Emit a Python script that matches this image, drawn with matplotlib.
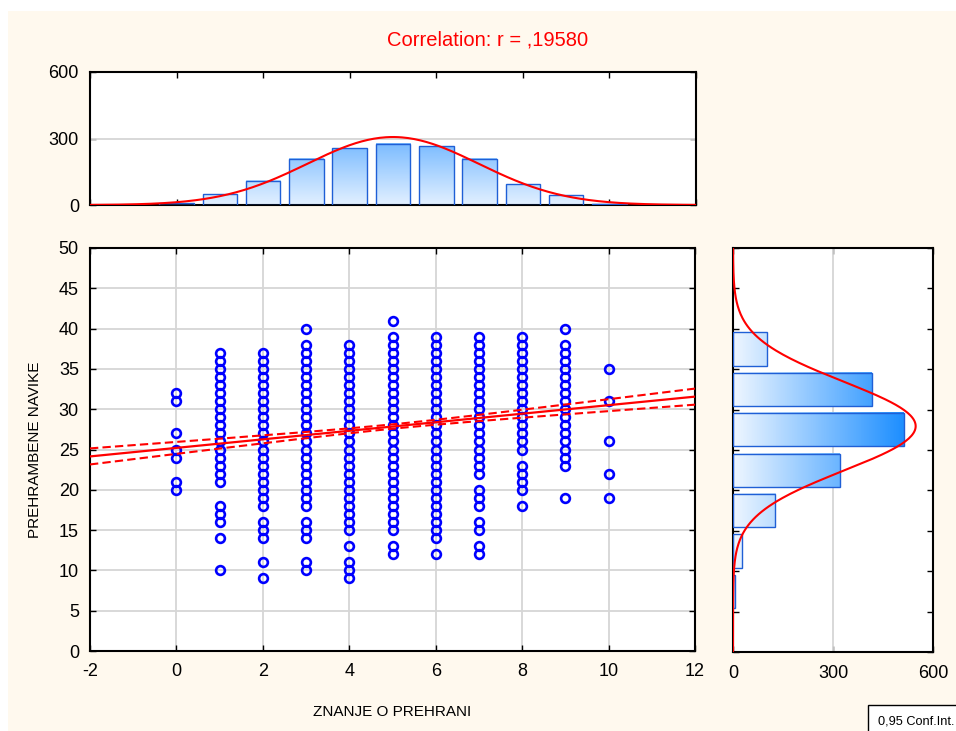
import numpy as np
import matplotlib
matplotlib.use('Agg')
import matplotlib.pyplot as plt
from matplotlib.patches import Rectangle
from matplotlib.colors import LinearSegmentedColormap

plt.rcParams['font.family'] = ['Liberation Sans', 'DejaVu Sans']
plt.rcParams['axes.unicode_minus'] = False

# scatter columns: ZNANJE O PREHRANI score -> PREHRAMBENE NAVIKE values seen
col_x = [0, 1, 2, 3, 4, 5, 6, 7, 8, 9, 10]
col_y = [
    [20, 21, 24, 25, 27, 31, 32],
    [10, 14, 16, 17, 18, 21, 22, 23, 24, 25, 26, 27, 28, 29, 30, 31, 32, 33, 34, 35, 36, 37],
    [9, 11, 14, 15, 16, 18, 19, 20, 21, 22, 23, 24, 25, 26, 27, 28, 29, 30, 31, 32, 33, 34, 35, 36, 37],
    [10, 11, 14, 15, 16, 18, 19, 20, 21, 22, 23, 24, 25, 26, 27, 28, 29, 30, 31, 32, 33, 34, 35, 36, 37, 38, 40],
    [9, 10, 11, 13, 15, 16, 17, 18, 19, 20, 21, 22, 23, 24, 25, 26, 27, 28, 29, 30, 31, 32, 33, 34, 35, 36, 37, 38],
    [12, 13, 15, 16, 17, 18, 19, 20, 21, 22, 23, 24, 25, 26, 27, 28, 29, 30, 31, 32, 33, 34, 35, 36, 37, 38, 39, 41],
    [12, 14, 15, 16, 17, 18, 19, 20, 21, 22, 23, 24, 25, 26, 27, 28, 29, 30, 31, 32, 33, 34, 35, 36, 37, 38, 39],
    [12, 13, 15, 16, 18, 19, 20, 22, 23, 24, 25, 26, 27, 28, 29, 30, 31, 32, 33, 34, 35, 36, 37, 38, 39],
    [18, 20, 21, 22, 23, 25, 26, 27, 28, 29, 30, 31, 32, 33, 34, 35, 36, 37, 38, 39],
    [19, 23, 24, 25, 26, 27, 28, 29, 30, 31, 32, 33, 34, 35, 36, 37, 38, 40],
    [19, 22, 26, 31, 35],
]

# marginal histogram of x (top)
hist_x = [0, 1, 2, 3, 4, 5, 6, 7, 8, 9, 10]
hist_x_counts = [8, 48, 109, 208, 256, 277, 265, 208, 94, 44, 5]
x_mean, x_sd = 5.0, 1.98

# marginal histogram of y (right), bins of 5
hist_y_lo = [5, 10, 15, 20, 25, 30, 35]
hist_y_counts = [5, 26, 127, 321, 513, 417, 102]
y_mean, y_sd = 27.95, 5.5

# regression line and 0.95 confidence band
r_value = ',19580'
b0, b1 = 25.2, 0.53
resid_sd = 5.4

BG = '#fff9ee'
BLUE = '#0000ff'
RED = '#ff0000'
GRID = '#d6d6d6'
EDGE = '#1f5fd6'

W, H = 956, 731
fig = plt.figure(figsize=(W / 100, H / 100), dpi=100, facecolor='white')
fig.patches.append(Rectangle((8 / W, 0), 1, 1 - 11 / H, transform=fig.transFigure,
                             facecolor=BG, edgecolor='none', zorder=-10))


def rect(l, t, r, b):
    return [l / W, 1 - b / H, (r - l) / W, (b - t) / H]


ax = fig.add_axes(rect(90, 248, 695, 651))
axt = fig.add_axes(rect(90, 72, 696, 205))
axr = fig.add_axes(rect(733, 248, 933, 652))

for a in (ax, axt, axr):
    a.set_facecolor('white')
    for s in a.spines.values():
        s.set_linewidth(1.5)
    a.tick_params(direction='in', length=4, width=1, top=True, right=True,
                  labelsize=13, colors='black')
    a.set_axisbelow(True)

# ---- main scatter ----
xs = np.concatenate([[x] * len(ys) for x, ys in zip(col_x, col_y)])
ys = np.concatenate(col_y)
ax.plot(xs, ys, 'o', mfc='none', mec=BLUE, ms=6.3, mew=1.9, zorder=3)

n = sum(hist_x_counts)
sxx = n * x_sd ** 2
xx = np.linspace(-2, 12, 200)
yy = b0 + b1 * xx
half = 1.96 * resid_sd * np.sqrt(1 / n + (xx - x_mean) ** 2 / sxx)
ax.plot(xx, yy, color=RED, lw=1.6, zorder=4)
ax.plot(xx, yy + half, color=RED, lw=1.5, ls=(0, (4, 2)), zorder=4)
ax.plot(xx, yy - half, color=RED, lw=1.5, ls=(0, (4, 2)), zorder=4)

ax.set_xlim(-2, 12)
ax.set_ylim(0, 50)
ax.set_xticks(range(-2, 13, 2))
ax.set_yticks(range(0, 51, 5))
ax.grid(True, color=GRID, lw=1.3)
ax.tick_params(axis='x', pad=9)
ax.tick_params(axis='y', pad=8)
ax.set_xlabel('ZNANJE O PREHRANI', fontsize=11, labelpad=18)
ax.set_ylabel('PREHRAMBENE NAVIKE', fontsize=11, labelpad=12)

# ---- top histogram ----
cmap_t = LinearSegmentedColormap.from_list('t', ['#e2f0ff', '#7cbcff'])
for x, c in zip(hist_x, hist_x_counts):
    x0, x1 = x - 0.4, x + 0.4
    g = np.linspace(0, c, 64).reshape(-1, 1)
    axt.imshow(g, extent=(x0, x1, 0, c), origin='lower', aspect='auto',
               cmap=cmap_t, vmin=0, vmax=max(hist_x_counts), zorder=2)
    axt.add_patch(Rectangle((x0, 0), 0.8, c, fill=False, ec=EDGE, lw=1, zorder=3))
xc = np.linspace(-2, 12, 300)
axt.plot(xc, n / (x_sd * np.sqrt(2 * np.pi)) * np.exp(-(xc - x_mean) ** 2 / (2 * x_sd ** 2)),
         color=RED, lw=1.5, zorder=4)
axt.axhline(300, color=GRID, lw=1.3, zorder=1)
axt.set_xlim(-2, 12)
axt.set_ylim(0, 600)
axt.set_xticks(range(-2, 13, 2))
axt.set_yticks([0, 300, 600])
axt.tick_params(axis='x', labelbottom=False)
axt.tick_params(axis='y', pad=8)

# ---- right histogram ----
cmap_r = LinearSegmentedColormap.from_list('r', ['#eef6ff', '#1e8fff'])
ny = sum(hist_y_counts)
for lo, c in zip(hist_y_lo, hist_y_counts):
    y0, y1 = lo + 0.45, lo + 4.55
    g = np.linspace(0, c, 64).reshape(1, -1)
    axr.imshow(g, extent=(0, c, y0, y1), origin='lower', aspect='auto',
               cmap=cmap_r, vmin=0, vmax=max(hist_y_counts), zorder=2)
    axr.add_patch(Rectangle((0, y0), c, y1 - y0, fill=False, ec=EDGE, lw=1, zorder=3))
yc = np.linspace(0, 50, 300)
axr.plot(ny * 5 / (y_sd * np.sqrt(2 * np.pi)) * np.exp(-(yc - y_mean) ** 2 / (2 * y_sd ** 2)), yc,
         color=RED, lw=1.5, zorder=4)
axr.axvline(300, color=GRID, lw=1.3, zorder=1)
axr.set_xlim(0, 600)
axr.set_ylim(0, 50)
axr.set_xticks([0, 300, 600])
axr.set_yticks(range(0, 51, 5))
axr.tick_params(axis='y', labelleft=False)
axr.tick_params(axis='x', pad=9)

fig.text(488 / W, 1 - 40 / H, 'Correlation: r = ' + r_value, color=RED,
         fontsize=14.5, ha='center', va='center')
# legend box runs off the page edge like in the reference, text kept inside
fig.text(878 / W, 1 - 721 / H, '0,95 Conf.Int.', fontsize=9.2, ha='left', va='center',
         bbox=dict(boxstyle='square,pad=0.75', fc='white', ec='black', lw=1))

fig.savefig('out.png', dpi=100, facecolor=fig.get_facecolor())
